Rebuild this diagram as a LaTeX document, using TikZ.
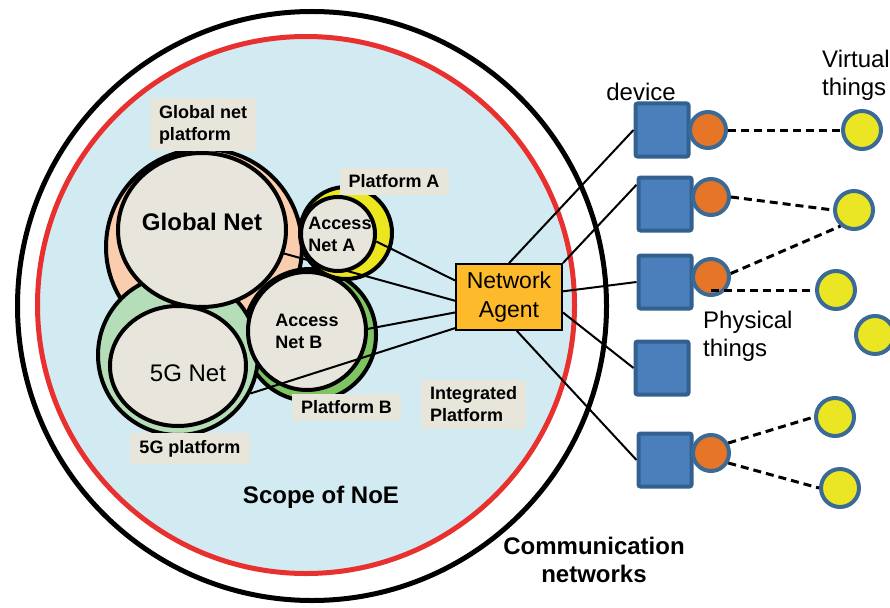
\documentclass[tikz,border=0pt]{standalone}
\usepackage{fontspec}
\setmainfont{Liberation Sans}
\usetikzlibrary{shapes.geometric}
\pgfdeclarelayer{bg}
\pgfdeclarelayer{links}
\pgfsetlayers{bg,links,main}

\definecolor{scopeblue}{HTML}{D2EBF2}
\definecolor{scopered}{HTML}{E8302F}
\definecolor{peach}{HTML}{F9CDAE}
\definecolor{platyellow}{HTML}{ECE61F}
\definecolor{platgreen}{HTML}{7EC462}
\definecolor{fivegreen}{HTML}{B5DDB8}
\definecolor{netbeige}{HTML}{E8E6DC}
\definecolor{tagbeige}{HTML}{E8E6DA}
\definecolor{agentorange}{HTML}{FDBB2B}
\definecolor{devblue}{HTML}{4A7FBC}
\definecolor{devline}{HTML}{33618F}
\definecolor{thingorange}{HTML}{E77527}
\definecolor{thingyellow}{HTML}{EAE624}
\definecolor{thingline}{HTML}{3C6A96}

\tikzstyle{platring}=[circle,draw=black,line width=4pt,inner sep=0pt]
\tikzstyle{netcircle}=[ellipse,draw=black,line width=4pt,fill=netbeige,inner sep=0pt,align=left]
\tikzstyle{tag}=[fill=tagbeige,inner xsep=9pt,inner ysep=7pt,align=left,font=\fontsize{18}{22}\selectfont\bfseries]
\tikzstyle{devbox}=[rectangle,rounded corners=2pt,draw=devline,fill=devblue,line width=4pt,minimum size=53pt]
\tikzstyle{phys}=[circle,draw=thingline,fill=thingorange,line width=4pt,minimum size=36pt,inner sep=0pt]
\tikzstyle{virt}=[circle,draw=thingline,fill=thingyellow,line width=4pt,minimum size=38pt,inner sep=0pt]
\tikzstyle{agentlink}=[line width=2pt]
\tikzstyle{dashlink}=[line width=3pt,dash pattern=on 8pt off 5pt]

\begin{document}
\begin{tikzpicture}[x=1pt,y=-1pt]
\useasboundingbox (0,0) rectangle (890,607);

% scopes and platforms
\begin{pgfonlayer}{bg}
\node (comm) [platring,line width=5pt,minimum size=589pt] at (312,306) {};
\node (noe) [platring,draw=scopered,line width=5pt,fill=scopeblue,minimum size=537pt] at (306,305) {};
\node (gnp) [platring,fill=peach,minimum size=196pt] at (204,247) {};
\node (pb) [platring,fill=platgreen,minimum size=132pt] at (310,335) {};
\node (pa) [platring,fill=platyellow,minimum size=92pt] at (346,233) {};
\node (g5p) [platring,fill=fivegreen,minimum size=160pt] at (178,355) {};
\end{pgfonlayer}

% networks
\node (na) [rectangle,draw=black,line width=1.8pt,fill=agentorange,
minimum width=106pt,minimum height=66pt,align=center,
font=\fontsize{23}{29}\selectfont] at (509,297) {Network\\Agent};
\node (ana) [netcircle,minimum size=74pt,
label={[align=left,xshift=2pt,font=\fontsize{18}{22}\selectfont\bfseries]center:Access\\Net A}] at (338,234) {};
\node (anb) [netcircle,minimum size=118pt,font=\fontsize{18}{22}\selectfont\bfseries] at (307,331) {Access\\Net B};
\node (gn) [netcircle,minimum width=168pt,minimum height=154pt,
label={[font=\fontsize{24}{28}\selectfont\bfseries,yshift=8pt]center:Global Net}] at (202,230) {};
\node (g5) [netcircle,minimum width=136pt,minimum height=120pt,
label={[font=\fontsize{24}{28}\selectfont,xshift=10pt,yshift=-7pt]center:5G Net}] at (178,366) {};

\begin{pgfonlayer}{links}
\draw[agentlink] (na.163)--(ana.-11);
\draw[agentlink] (na.184)--(gn.-16);
\draw[agentlink] (na.196)--(anb.2);
\end{pgfonlayer}
\draw[agentlink] (na.210)--(g5p.-28);

% platform labels
\node (gnpl) [tag] at (203,124.5) {Global net\\platform};
\node (pal) [tag] at (394,181.5) {Platform A};
\node (pbl) [tag] at (346.5,407.5) {Platform B};
\node (g5l) [tag] at (190,448.5) {5G platform};
\node (ipl) [tag] at (473.5,404.5) {Integrated\\Platform};
\node (scope) [font=\fontsize{24}{28}\selectfont\bfseries] at (321,497) {Scope of NoE};
\node (cnet) [align=center,inner sep=0pt,font=\fontsize{24}{28}\selectfont\bfseries] at (594,560) {Communication\\networks};

% devices and things
\node (d1) [devbox] at (662,130) {};
\node (d2) [devbox] at (665,204) {};
\node (d3) [devbox] at (665,282) {};
\node (d4) [devbox] at (662,368) {};
\node (d5) [devbox] at (665,460) {};
\node (o1) [phys] at (708,130) {};
\node (o2) [phys] at (711,197) {};
\node (o3) [phys] at (711,277) {};
\node (o5) [phys] at (711,453) {};
\node (y1) [virt] at (862,130) {};
\node (y2) [virt] at (854,210) {};
\node (y3) [virt] at (836,290) {};
\node (y4) [virt] at (875,335) {};
\node (y5) [virt] at (835,417) {};
\node (y6) [virt] at (840,488) {};

\node (dev) [inner sep=0pt,font=\fontsize{24}{28}\selectfont] at (641,92) {device};
\node (virtual) [anchor=west,inner sep=0pt,align=left,font=\fontsize{24}{28}\selectfont] at (822,75) {Virtual\\things};
\node (physical) [anchor=west,inner sep=0pt,align=left,font=\fontsize{24}{28}\selectfont] at (703,336) {Physical\\things};

\draw[agentlink] (na.north)--(d1.west);
\draw[agentlink] (na.north east)--(d2.146);
\draw[agentlink] (na.6)--(d3.west);
\draw[agentlink] (na.-16)--(d4.west);
\draw[agentlink] (na.-77)--(d5.west);

\draw[dashlink] (o1.east)--(y1.west);
\draw[dashlink] (o2.east)--(y2.west);
\draw[dashlink] (o3.10)--(y2.-130);
\draw[dashlink] (o3 |- y3.west)--(y3.west);
\draw[dashlink] (o5.30)--(y5.west);
\draw[dashlink] (o5.-30)--(y6.west);
\end{tikzpicture}
\end{document}
